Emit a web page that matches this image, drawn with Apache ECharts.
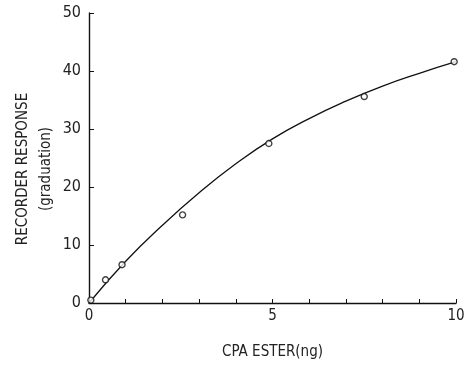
<!DOCTYPE html>
<html>
<head>
<meta charset="utf-8">
<script src="https://cdn.jsdelivr.net/npm/echarts@6/dist/echarts.min.js"></script>
<style>
  html, body { margin: 0; padding: 0; background: #fff; }
  #chart { width: 465px; height: 365px; }
</style>
</head>
<body>
<div id="chart"></div>
<script>
// measured points (open circles)
var pointX = [0.05, 0.45, 0.9, 2.55, 4.9, 7.5, 9.95];
var pointY = [0.5, 4.0, 6.6, 15.2, 27.5, 35.6, 41.6];

// fitted curve
var curveX = [0, 1, 2, 3, 4, 5, 6, 7, 8, 9, 10];
var curveY = [0, 7.2, 13.4, 19.0, 24.0, 28.3, 31.8, 34.8, 37.4, 39.6, 41.6];

var xLabels = [0, 5, 10];

var chart = echarts.init(document.getElementById('chart'));
var font = '"DejaVu Sans Condensed", "DejaVu Sans", sans-serif';

var option = {
  backgroundColor: '#fff',
  animation: false,
  grid: { left: 89, right: 9, top: 13, bottom: 62, containLabel: false, outerBoundsMode: 'none' },
  xAxis: {
    type: 'value',
    min: 0, max: 10, interval: 1,
    name: 'CPA ESTER(ng)',
    nameLocation: 'middle',
    nameGap: 42,
    nameMoveOverlap: false,
    nameTextStyle: { color: '#222', fontFamily: font, fontSize: 15 },
    axisLine: { lineStyle: { color: '#111', width: 1.4 } },
    axisTick: { inside: true, length: 4, lineStyle: { color: '#111' } },
    axisLabel: {
      color: '#222', fontFamily: font, fontSize: 15, margin: 6,
      formatter: function (v) { return xLabels.indexOf(v) >= 0 ? String(v) : ''; }
    },
    splitLine: { show: false }
  },
  yAxis: {
    type: 'value',
    min: 0, max: 50, interval: 10,
    name: 'RECORDER RESPONSE\n(graduation)',
    nameLocation: 'middle',
    nameGap: 31,
    nameMoveOverlap: false,
    nameRotate: 90,
    nameTextStyle: {
      color: '#222', fontFamily: font, fontSize: 15, lineHeight: 23, align: 'center',
      padding: [0, 22, 0, 0]
    },
    axisLine: { show: true, lineStyle: { color: '#111', width: 1.4 } },
    axisTick: { show: true, inside: true, length: 5, lineStyle: { color: '#111' } },
    axisLabel: { color: '#222', fontFamily: font, fontSize: 16, margin: 8 },
    splitLine: { show: false }
  },
  series: [
    {
      type: 'line',
      smooth: true,
      showSymbol: false,
      lineStyle: { color: '#111', width: 1.3 },
      data: curveX.map(function (x, i) { return [x, curveY[i]]; }),
      z: 2
    },
    {
      type: 'scatter',
      symbol: 'circle',
      symbolSize: 6,
      itemStyle: { color: '#fff', borderColor: '#111', borderWidth: 1.4 },
      data: pointX.map(function (x, i) { return [x, pointY[i]]; }),
      z: 3
    }
  ]
};
chart.setOption(option);
</script>
</body>
</html>
